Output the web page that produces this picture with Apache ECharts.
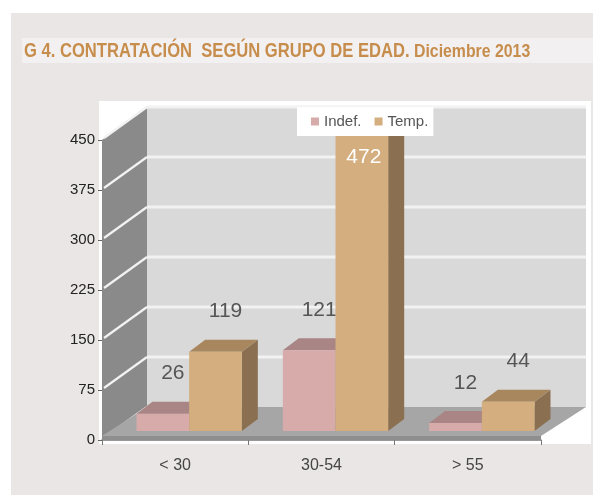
<!DOCTYPE html>
<html>
<head>
<meta charset="utf-8">
<script src="https://cdn.jsdelivr.net/npm/echarts@6/dist/echarts.min.js"></script>
<style>
  html, body { margin: 0; padding: 0; background: #ffffff; }
  #chart { width: 593px; height: 495px; }
</style>
</head>
<body>
<div id="chart"></div>
<script>
// datos del gráfico
const categories = ['< 30', '30-54', '> 55'];
const indefValues = [26, 121, 12];
const tempValues = [119, 472, 44];
const yTicks = [0, 75, 150, 225, 300, 375, 450];
const seriesNames = ['Indef.', 'Temp.'];
const titleMain = 'G 4. CONTRATACIÓN  SEGÚN GRUPO DE EDAD.';
const titleSub = 'Diciembre 2013';

const Y_MAX = 450;
// profundidad del "3D"
const DEPTH_X = 45, DEPTH_Y = -33;
const BAR_SHIFT_X = 14, BAR_SHIFT_Y = -9;
const BAR_DX = 16, BAR_DY = -12;
const BAR_FRAC = 0.36;

const colors = {
  indef: { front: '#d6abaa', top: '#a98585', side: '#967272' },
  temp: { front: '#d4ae7e', top: '#a8875f', side: '#8a7051' },
  backWall: '#d9d9d9',
  sideWall: '#8a8a8a',
  floor: '#a6a6a6',
  floorEdge: '#8e8e8e',
  grid: '#f2f2f2',
  title: '#c78d4c'
};

const chart = echarts.init(document.getElementById('chart'));

// paredes y suelo, a partir de las escalas de los ejes
function renderWalls(params, api) {
  const bw = api.size([1, 0])[0];
  const x0 = api.coord([0, 0])[0] - bw / 2;
  const x1 = api.coord([categories.length - 1, 0])[0] + bw / 2;
  const y0 = api.coord([0, 0])[1];
  const yt = api.coord([0, Y_MAX])[1];
  const children = [];
  // pared del fondo
  children.push({ type: 'rect', shape: { x: x0 + DEPTH_X, y: yt + DEPTH_Y, width: x1 - x0, height: y0 - yt }, style: { fill: colors.backWall } });
  // pared lateral
  children.push({ type: 'polygon', shape: { points: [[x0, yt], [x0 + DEPTH_X, yt + DEPTH_Y], [x0 + DEPTH_X, y0 + DEPTH_Y], [x0, y0]] }, style: { fill: colors.sideWall } });
  yTicks.forEach(v => {
    const y = api.coord([0, v])[1];
    if (v > 0) {
      children.push({ type: 'line', shape: { x1: x0 + DEPTH_X, y1: y + DEPTH_Y, x2: x1 + DEPTH_X, y2: y + DEPTH_Y }, style: { stroke: colors.grid, lineWidth: 3 } });
    }
    children.push({ type: 'line', shape: { x1: x0 + 2, y1: y - 2, x2: x0 + DEPTH_X, y2: y + DEPTH_Y }, style: { stroke: colors.grid, lineWidth: 2.2 } });
  });
  // suelo
  children.push({ type: 'polygon', shape: { points: [[x0, y0 - 4], [x1, y0 - 4], [x1 + DEPTH_X, y0 + DEPTH_Y], [x0 + DEPTH_X, y0 + DEPTH_Y]] }, style: { fill: colors.floor } });
  children.push({ type: 'rect', shape: { x: x0, y: y0 - 4, width: x1 - x0, height: 4 }, style: { fill: colors.floorEdge } });
  return { type: 'group', children: children };
}

function makeBarRenderer(seriesIdx, pal) {
  return function (params, api) {
    const idx = api.value(0);
    const val = api.value(1);
    const base = api.coord([idx, 0]);
    const top = api.coord([idx, val]);
    const bw = api.size([1, 0])[0];
    const w = bw * BAR_FRAC;
    const x = base[0] + BAR_SHIFT_X + (seriesIdx === 0 ? -w : 0);
    const yb = base[1] + BAR_SHIFT_Y;
    const yt = top[1] + BAR_SHIFT_Y;
    const inside = val > Y_MAX;
    const children = [];
    if (inside) {
      // barra cortada en el techo del gráfico
      const yc = api.coord([idx, Y_MAX])[1] + DEPTH_Y;
      children.push({ type: 'polygon', shape: { points: [[x + w, yc], [x + w + BAR_DX, yc], [x + w + BAR_DX, yb + BAR_DY], [x + w, yb]] }, style: { fill: pal.side } });
      children.push({ type: 'rect', shape: { x: x, y: yc, width: w, height: yb - yc }, style: { fill: pal.front } });
    } else {
      children.push({ type: 'polygon', shape: { points: [[x + w, yt], [x + w + BAR_DX, yt + BAR_DY], [x + w + BAR_DX, yb + BAR_DY], [x + w, yb]] }, style: { fill: pal.side } });
      children.push({ type: 'polygon', shape: { points: [[x, yt], [x + BAR_DX, yt + BAR_DY], [x + w + BAR_DX, yt + BAR_DY], [x + w, yt]] }, style: { fill: pal.top } });
      children.push({ type: 'rect', shape: { x: x, y: yt, width: w, height: yb - yt }, style: { fill: pal.front } });
    }
    children.push({
      type: 'text',
      style: {
        text: String(val),
        x: x + w / 2 + (inside ? 2 : 10),
        y: inside ? yt + 41 : yt - 40,
        fill: inside ? '#ffffff' : '#555555',
        font: '21px "Liberation Sans", Arial, sans-serif',
        align: 'center',
        verticalAlign: 'middle'
      }
    });
    return { type: 'group', children: children };
  };
}

const option = {
  backgroundColor: '#ffffff',
  animation: false,
  graphic: [
    { type: 'rect', z: -10, shape: { x: 11, y: 13, width: 582, height: 482 }, style: { fill: '#ebe6e6' } },
    { type: 'rect', z: -9, shape: { x: 22, y: 38, width: 571, height: 25 }, style: { fill: '#f2f0f0' } },
    { type: 'rect', z: -9, shape: { x: 99, y: 101, width: 492, height: 343 }, style: { fill: '#ffffff' } },
    {
      type: 'text', z: 5, x: 24, y: 51, scaleX: 0.79,
      style: { text: titleMain, x: 0, y: 0, fill: colors.title, font: 'bold 21px "Liberation Sans", Arial, sans-serif', verticalAlign: 'middle' }
    },
    {
      type: 'text', z: 5, x: 414, y: 52, scaleX: 0.88,
      style: { text: titleSub, x: 0, y: 0, fill: colors.title, font: 'bold 18px "Liberation Sans", Arial, sans-serif', verticalAlign: 'middle' }
    }
  ],
  legend: {
    data: seriesNames,
    left: 297,
    top: 107,
    z: 20,
    backgroundColor: '#ffffff',
    padding: [7, 5, 7, 14],
    itemGap: 13,
    itemWidth: 8,
    itemHeight: 8,
    icon: 'rect',
    textStyle: { fontSize: 15, color: '#555555', fontFamily: '"Liberation Sans", Arial, sans-serif' }
  },
  grid: { left: 102, top: 140, width: 439, height: 300, containLabel: false },
  xAxis: {
    type: 'category',
    data: categories,
    boundaryGap: true,
    axisLine: { show: true, lineStyle: { color: '#777777', width: 1.5 } },
    axisTick: { show: true, length: 5, lineStyle: { color: '#777777' } },
    axisLabel: { margin: 18, fontSize: 16, color: '#444444', fontFamily: '"Liberation Sans", Arial, sans-serif' }
  },
  yAxis: {
    type: 'value',
    min: 0,
    max: Y_MAX,
    interval: 75,
    axisLine: { show: false },
    axisTick: { show: true, length: 4, lineStyle: { color: '#666666' } },
    splitLine: { show: false },
    axisLabel: { margin: 7, fontSize: 15, color: '#222222', fontFamily: '"Liberation Sans", Arial, sans-serif' }
  },
  series: [
    { type: 'custom', name: 'walls', z: 1, silent: true, data: [[0, 0]], renderItem: renderWalls },
    {
      type: 'custom', name: seriesNames[0], z: 3,
      itemStyle: { color: colors.indef.front },
      encode: { x: 0, y: 1 },
      data: indefValues.map((v, i) => [i, v]),
      renderItem: makeBarRenderer(0, colors.indef)
    },
    {
      type: 'custom', name: seriesNames[1], z: 4,
      itemStyle: { color: colors.temp.front },
      encode: { x: 0, y: 1 },
      data: tempValues.map((v, i) => [i, v]),
      renderItem: makeBarRenderer(1, colors.temp)
    }
  ]
};

chart.setOption(option);
</script>
</body>
</html>
